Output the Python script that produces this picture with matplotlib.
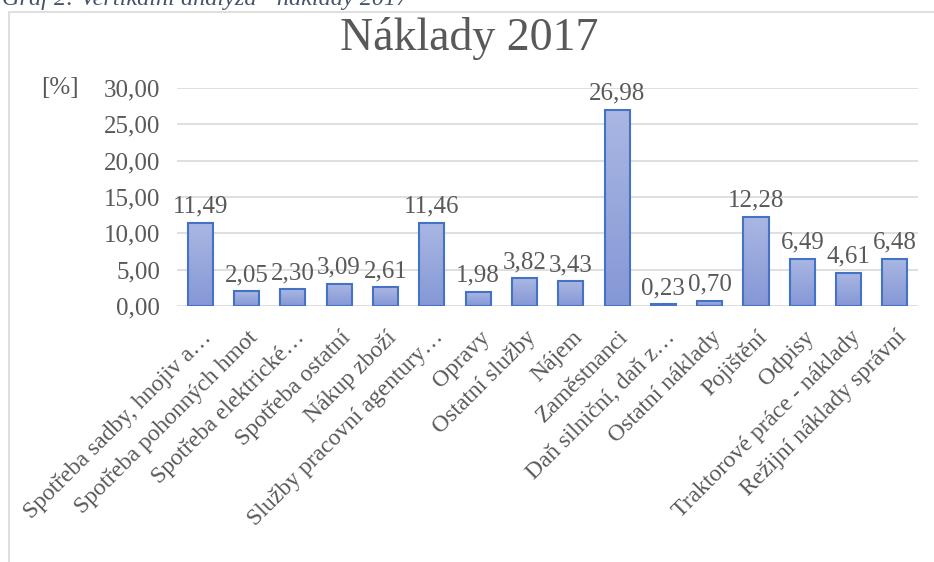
import numpy as np
import matplotlib
matplotlib.use('Agg')
import matplotlib.pyplot as plt
from matplotlib.patches import Rectangle

plt.rcParams['font.family'] = ['Liberation Serif', 'DejaVu Serif']

categories = ['Spotřeba sadby, hnojiv a…', 'Spotřeba pohonných hmot', 'Spotřeba elektrické…',
              'Spotřeba ostatní', 'Nákup zboží', 'Služby pracovní agentury…', 'Opravy',
              'Ostatní služby', 'Nájem', 'Zaměstnanci', 'Daň silniční, daň z…',
              'Ostatní náklady', 'Pojištění', 'Odpisy', 'Traktorové práce - náklady',
              'Režijní náklady správní']
values = [11.49, 2.05, 2.30, 3.09, 2.61, 11.46, 1.98, 3.82, 3.43, 26.98, 0.23, 0.70,
          12.28, 6.49, 4.61, 6.48]
yticks = [0, 5, 10, 15, 20, 25, 30]

txt = '#595959'
fig = plt.figure(figsize=(9.34, 5.62), dpi=100)
ax = fig.add_axes([0.1895, 0.4555, 0.7935, 0.3879])

x = np.arange(len(values))
bars = ax.bar(x, values, width=0.54, color='none', edgecolor='#4472c4', linewidth=1.5, zorder=3)

# gradient fill inside each bar
grad = np.linspace(0, 1, 100).reshape(-1, 1)
cmap = matplotlib.colors.LinearSegmentedColormap.from_list('g', ['#8598d6', '#aab7e3'])
for b in bars:
    im = ax.imshow(grad, cmap=cmap, origin='lower', aspect='auto', zorder=2,
                   extent=[b.get_x(), b.get_x() + b.get_width(), 0, b.get_height()])
    im.set_clip_path(b)

for xi, v in zip(x, values):
    ax.text(xi, v + 0.7, f'{v:.2f}'.replace('.', ','), ha='center', va='bottom',
            fontsize=18, color=txt)

ax.set_xlim(-0.5, len(values) - 0.5)
ax.set_ylim(0, 30)
ax.set_yticks(yticks)
ax.set_yticklabels([f'{t:.2f}'.replace('.', ',') for t in yticks], fontsize=18, color=txt)
ax.tick_params(axis='y', length=0, pad=12)
ax.tick_params(axis='x', length=0, pad=15)
ax.set_xticks(x)
ax.set_xticklabels(categories, rotation=45, ha='right', rotation_mode='anchor',
                   fontsize=17, color=txt)
for lab in ax.get_xticklabels():
    lab.set_transform(lab.get_transform() + matplotlib.transforms.ScaledTranslation(0.01, 0, fig.dpi_scale_trans))
ax.grid(axis='y', color='#d9d9d9', linewidth=1.2, zorder=0)
ax.set_axisbelow(True)
for s in ax.spines.values():
    s.set_visible(False)

fig.text(0.502, 1 - 38 / 562, 'Náklady 2017', ha='center', va='center', fontsize=33, color=txt)
fig.text(60 / 934, 1 - 88 / 562, '[%]', ha='center', va='center', fontsize=18, color=txt)
fig.text(2 / 934, 1 - 5 / 562, 'Graf 2: Vertikální analýza - náklady 2017', ha='left',
         va='baseline', fontsize=17.5, style='italic', color='#44546a')
fig.patches.append(Rectangle((9 / 934, -0.1), 1.2, 1 - 12 / 562 + 0.1, transform=fig.transFigure,
                             fill=False, edgecolor='#d9d9d9', linewidth=1.2))

plt.savefig('out.png', dpi=100)
